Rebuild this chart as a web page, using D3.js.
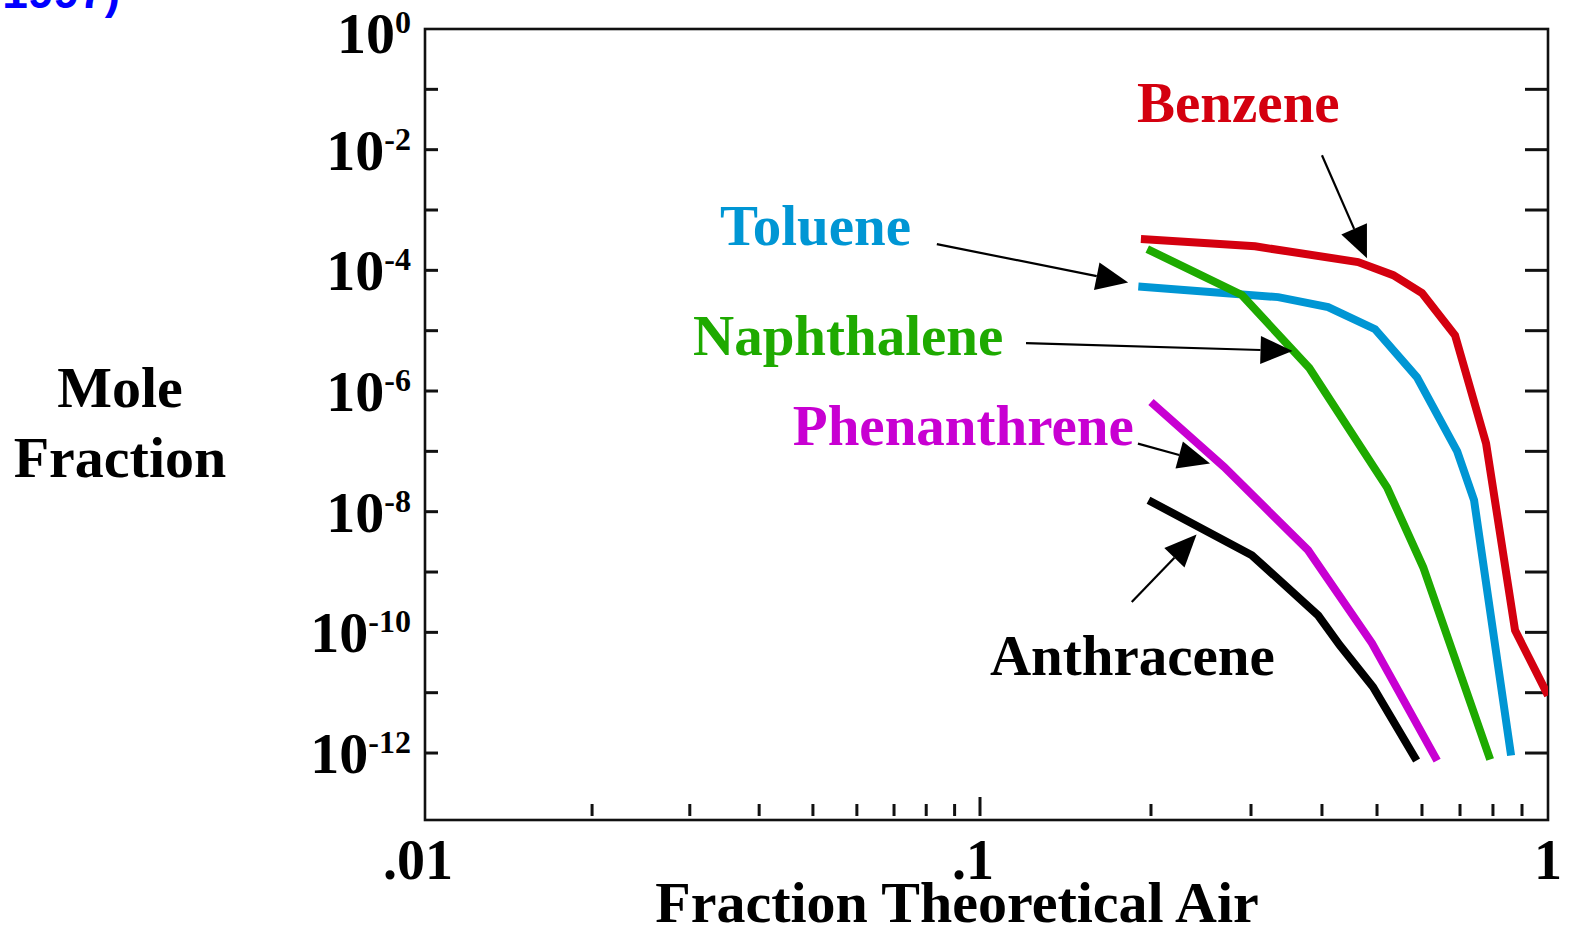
<!DOCTYPE html>
<html>
<head>
<meta charset="utf-8">
<script src="https://cdn.jsdelivr.net/npm/d3@7"></script>
<style>
  html, body { margin: 0; padding: 0; background: #fff; }
  svg { display: block; }
</style>
</head>
<body>
<svg id="chart" width="1572" height="929"></svg>
<script>
// Mole fraction of aromatic species vs. fraction of theoretical air
const species = ["Benzene", "Toluene", "Naphthalene", "Phenanthrene", "Anthracene"];
const speciesColors = ["#d4000f", "#0096d4", "#1eaa00", "#c800d2", "#000000"];

const benzeneAir  = [0.192, 0.305, 0.463, 0.534, 0.600, 0.686, 0.778, 0.875, 1.0];
const benzeneMole = [3.3e-4, 2.5e-4, 1.37e-4, 8.3e-5, 4.2e-5, 8.4e-6, 1.36e-7, 1.08e-10, 9.0e-12];

const tolueneAir  = [0.190, 0.335, 0.410, 0.496, 0.588, 0.692, 0.741, 0.861];
const tolueneMole = [5.4e-5, 3.6e-5, 2.45e-5, 1.06e-5, 1.69e-6, 1.0e-7, 1.55e-8, 9.1e-13];

const naphthaleneAir  = [0.197, 0.289, 0.380, 0.521, 0.603, 0.791];
const naphthaleneMole = [2.25e-4, 3.9e-5, 2.4e-6, 2.5e-8, 1.2e-9, 7.8e-13];

const phenanthreneAir  = [0.200, 0.269, 0.378, 0.490, 0.638];
const phenanthreneMole = [6.6e-7, 5.5e-8, 2.3e-9, 6.6e-11, 7.5e-13];

const anthraceneAir  = [0.198, 0.301, 0.394, 0.430, 0.492, 0.587];
const anthraceneMole = [1.55e-8, 1.9e-9, 1.9e-10, 6.1e-11, 1.24e-11, 7.5e-13];

// Axis ticks and labels
const xMinorTicks = [0.02, 0.03, 0.04, 0.05, 0.06, 0.07, 0.08, 0.09, 0.2, 0.3, 0.4, 0.5, 0.6, 0.7, 0.8, 0.9];
const xMajorTicks = [0.1];
const xTickLabels = [[0.01, ".01"], [0.1, ".1"], [1, "1"]];
const yDecadeExps = [-1, -2, -3, -4, -5, -6, -7, -8, -9, -10, -11, -12];
const yLabelExps  = [0, -2, -4, -6, -8, -10, -12];

// Label annotations, anchored in data coordinates: [text position, arrow tail, arrow tip]
const labelAt   = [[0.189, 2.87e-2], [0.0340, 2.62e-4], [0.0304, 3.93e-6], [0.0460, 1.26e-7], [0.1041, 1.94e-11]];
const arrowTail = [[0.400, 8.1e-3], [0.0836, 2.72e-4], [0.1205, 6.2e-6], [0.1897, 1.34e-7], [0.185, 3.18e-10]];
const arrowTip  = [[0.480, 1.59e-4], [0.1823, 6.3e-5], [0.355, 4.62e-6], [0.2541, 6.28e-8], [0.2406, 4.17e-9]];

const seriesAir  = [benzeneAir, tolueneAir, naphthaleneAir, phenanthreneAir, anthraceneAir];
const seriesMole = [benzeneMole, tolueneMole, naphthaleneMole, phenanthreneMole, anthraceneMole];

const svg = d3.select("#chart");
const plot = { left: 425, right: 1548, top: 29, bottom: 820 };
const serif = "'Liberation Serif', 'Times New Roman', serif";

const x = d3.scaleLog().domain([0.01, 0.1, 1]).range([plot.left, 980, plot.right]);
const y = d3.scaleLog().domain([Math.pow(10, -13.11), 1]).range([plot.bottom, plot.top]);

svg.append("rect").attr("width", 1572).attr("height", 929).attr("fill", "#fff");

// Partially visible caption at the top-left
svg.append("text")
  .attr("x", 120).attr("y", 8)
  .attr("text-anchor", "end")
  .attr("font-family", "'Liberation Sans', Arial, sans-serif")
  .attr("font-weight", "bold")
  .attr("font-size", 46)
  .attr("fill", "#0000ff")
  .text("1997)");

// Clip region for the curves
svg.append("defs").append("clipPath").attr("id", "plotClip")
  .append("rect")
  .attr("x", plot.left).attr("y", plot.top)
  .attr("width", plot.right - plot.left).attr("height", plot.bottom - plot.top);

// Frame
svg.append("rect")
  .attr("x", plot.left).attr("y", plot.top)
  .attr("width", plot.right - plot.left).attr("height", plot.bottom - plot.top)
  .attr("fill", "none").attr("stroke", "#111").attr("stroke-width", 2.6);

// Left axis ticks (inward) and right axis ticks (inward, longer)
const yTicks = svg.append("g").attr("stroke", "#111").attr("stroke-width", 3);
yTicks.selectAll("line.l").data(yDecadeExps).join("line").attr("class", "l")
  .attr("x1", plot.left).attr("x2", plot.left + 13)
  .attr("y1", d => y(Math.pow(10, d))).attr("y2", d => y(Math.pow(10, d)));
yTicks.selectAll("line.r").data(yDecadeExps).join("line").attr("class", "r")
  .attr("x1", plot.right - 23).attr("x2", plot.right)
  .attr("y1", d => y(Math.pow(10, d))).attr("y2", d => y(Math.pow(10, d)));

// Bottom axis ticks (inward, with a small gap above the axis)
const xTicks = svg.append("g").attr("stroke", "#111").attr("stroke-width", 3);
xTicks.selectAll("line.minor").data(xMinorTicks).join("line").attr("class", "minor")
  .attr("x1", d => x(d)).attr("x2", d => x(d))
  .attr("y1", plot.bottom - 16).attr("y2", plot.bottom - 4);
xTicks.selectAll("line.major").data(xMajorTicks).join("line").attr("class", "major")
  .attr("x1", d => x(d)).attr("x2", d => x(d))
  .attr("y1", plot.bottom - 23).attr("y2", plot.bottom - 4);

// Y tick labels: 10 with superscript exponent
const yLab = svg.append("g")
  .attr("font-family", serif).attr("font-weight", "bold").attr("fill", "#000");
yLabelExps.forEach(e => {
  const t = yLab.append("text")
    .attr("x", 411).attr("y", y(Math.pow(10, e)) + (e === 0 ? 24 : 20))
    .attr("text-anchor", "end")
    .attr("font-size", 58);
  t.append("tspan").text("10");
  t.append("tspan").attr("font-size", 32).attr("dy", -20).text(e === 0 ? "0" : "-" + Math.abs(e));
});

// X tick labels
svg.append("g")
  .attr("font-family", serif).attr("font-weight", "bold").attr("font-size", 56).attr("fill", "#000")
  .selectAll("text").data(xTickLabels).join("text")
  .attr("x", d => x(d[0]) - (d[1].startsWith(".") ? 7 : 0))
  .attr("y", 879)
  .attr("text-anchor", "middle")
  .text(d => d[1]);

// Axis titles
svg.append("text")
  .attr("x", 957).attr("y", 922)
  .attr("text-anchor", "middle")
  .attr("font-family", serif).attr("font-weight", "bold").attr("font-size", 58)
  .text("Fraction Theoretical Air");
const yTitle = svg.append("text")
  .attr("text-anchor", "middle")
  .attr("font-family", serif).attr("font-weight", "bold").attr("font-size", 58);
yTitle.append("tspan").attr("x", 120).attr("y", 407).text("Mole");
yTitle.append("tspan").attr("x", 120).attr("y", 477).text("Fraction");

// Curves
const line = d3.line().x(d => x(d[0])).y(d => y(d[1]));
const curves = svg.append("g").attr("clip-path", "url(#plotClip)");
species.forEach((name, i) => {
  const pts = seriesAir[i].map((a, k) => [a, seriesMole[i][k]]);
  curves.append("path")
    .datum(pts)
    .attr("d", line)
    .attr("fill", "none")
    .attr("stroke", speciesColors[i])
    .attr("stroke-width", 8)
    .attr("stroke-linejoin", "miter")
    .attr("stroke-linecap", "butt");
});

// Labels and pointer arrows
const ann = svg.append("g");
species.forEach((name, i) => {
  ann.append("text")
    .attr("x", x(labelAt[i][0])).attr("y", y(labelAt[i][1]))
    .attr("font-family", serif).attr("font-weight", "bold").attr("font-size", 57)
    .attr("fill", speciesColors[i])
    .text(name);

  const tx = x(arrowTail[i][0]), ty = y(arrowTail[i][1]);
  const px = x(arrowTip[i][0]),  py = y(arrowTip[i][1]);
  const len = Math.hypot(px - tx, py - ty);
  const ux = (px - tx) / len, uy = (py - ty) / len;
  const headLen = 32, headHalf = 14;
  const bx = px - ux * headLen, by = py - uy * headLen;
  ann.append("line")
    .attr("x1", tx).attr("y1", ty).attr("x2", bx).attr("y2", by)
    .attr("stroke", "#000").attr("stroke-width", 2.2);
  ann.append("polygon")
    .attr("points", [
      [px, py],
      [bx - uy * headHalf, by + ux * headHalf],
      [bx + uy * headHalf, by - ux * headHalf]
    ].map(p => p.join(",")).join(" "))
    .attr("fill", "#000");
});
</script>
</body>
</html>
